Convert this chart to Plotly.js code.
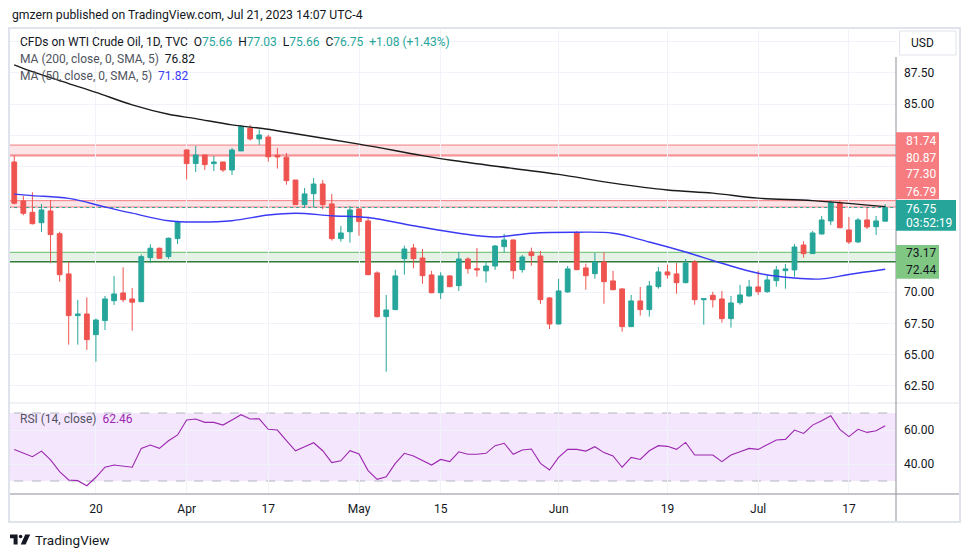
<!DOCTYPE html>
<html><head><meta charset="utf-8">
<script src="https://cdn.plot.ly/plotly-3.0.1.min.js"></script>
<style>html,body{margin:0;padding:0;background:#fff;}#chart{width:970px;height:557px;}</style>
</head><body><div id="chart"></div>
<script>
// ---------------- DATA ----------------
const dates = [
'2023-03-07','2023-03-08','2023-03-09','2023-03-10','2023-03-13','2023-03-14','2023-03-15','2023-03-16','2023-03-17',
'2023-03-20','2023-03-21','2023-03-22','2023-03-23','2023-03-24','2023-03-27','2023-03-28','2023-03-29','2023-03-30','2023-03-31',
'2023-04-03','2023-04-04','2023-04-05','2023-04-06','2023-04-10','2023-04-11','2023-04-12','2023-04-13','2023-04-14',
'2023-04-17','2023-04-18','2023-04-19','2023-04-20','2023-04-21','2023-04-24','2023-04-25','2023-04-26','2023-04-27','2023-04-28',
'2023-05-01','2023-05-02','2023-05-03','2023-05-04','2023-05-05','2023-05-08','2023-05-09','2023-05-10','2023-05-11',
'2023-05-15','2023-05-16','2023-05-17','2023-05-18','2023-05-19','2023-05-22','2023-05-23','2023-05-24','2023-05-25','2023-05-26',
'2023-05-29','2023-05-30','2023-05-31','2023-06-01','2023-06-02','2023-06-05','2023-06-06','2023-06-07','2023-06-08','2023-06-09',
'2023-06-12','2023-06-13','2023-06-14','2023-06-15','2023-06-16','2023-06-19','2023-06-20','2023-06-21','2023-06-22','2023-06-23',
'2023-06-26','2023-06-27','2023-06-28','2023-06-29','2023-06-30','2023-07-03','2023-07-04','2023-07-05','2023-07-06','2023-07-07',
'2023-07-10','2023-07-11','2023-07-12','2023-07-13','2023-07-14','2023-07-17','2023-07-18','2023-07-19','2023-07-20','2023-07-21'];

const open  = [80.39,77.28,76.37,75.54,76.48,74.66,71.45,68.12,68.25,
66.60,67.72,69.31,69.93,69.45,69.23,72.75,73.50,72.83,74.27,
81.35,80.26,80.95,80.26,80.39,79.75,81.27,83.08,82.23,
82.38,80.93,80.77,78.95,76.98,77.86,78.63,77.04,74.27,74.82,
76.64,75.68,71.53,68.04,68.60,72.67,73.52,72.72,71.37,
69.95,71.29,70.51,72.64,71.87,71.69,72.08,73.63,74.16,71.79,
73.20,72.88,69.53,67.45,70.01,74.72,71.93,71.47,72.40,70.89,
70.25,67.24,69.29,68.60,70.43,71.61,71.45,70.75,72.40,69.39,
69.74,69.45,67.88,69.15,69.69,70.41,70.03,70.91,71.71,71.77,
73.76,73.07,74.64,75.68,77.14,74.96,74.00,75.76,75.22,75.66];
const high  = [80.90,77.68,77.97,77.04,77.36,74.82,72.40,69.37,69.58,
67.88,69.69,71.29,71.98,70.33,73.00,73.82,73.55,74.35,75.70,
81.40,81.67,80.95,80.87,80.39,81.51,83.35,83.35,83.00,
82.56,81.51,81.11,78.95,78.31,79.11,78.95,77.84,75.28,76.88,
76.70,76.02,71.66,69.77,71.77,73.71,73.84,73.44,71.69,
71.58,71.35,73.18,72.78,73.52,72.48,73.76,74.64,74.20,72.96,
73.55,73.28,69.61,71.05,72.08,74.88,72.27,73.12,73.20,71.69,
70.30,69.77,70.41,70.89,72.00,72.19,72.32,72.64,72.56,69.50,
70.03,70.09,69.69,70.57,70.97,71.69,71.37,72.08,72.24,73.84,
74.06,74.88,76.08,77.30,77.30,76.00,75.92,76.74,76.08,77.03];
const low   = [77.00,76.13,75.40,74.80,72.35,70.83,65.80,65.80,65.38,
64.44,66.97,68.97,69.21,66.92,69.20,72.30,72.65,72.65,73.84,
79.00,79.59,79.75,79.67,79.59,79.35,81.27,82.09,81.75,
80.42,79.86,78.58,76.95,76.77,76.77,76.61,74.11,74.03,73.95,
74.50,71.35,67.96,63.64,68.55,71.39,71.90,70.67,69.90,
69.45,70.40,70.09,71.47,71.23,70.75,71.77,73.15,71.05,71.55,
72.11,69.05,67.05,67.40,69.95,71.75,70.19,71.07,69.07,70.15,
66.84,67.20,68.12,68.04,70.27,71.07,69.87,70.70,68.99,67.40,
68.76,67.56,67.16,68.99,69.63,69.77,69.95,70.43,70.27,71.23,
72.75,73.05,74.60,75.36,75.10,73.84,73.92,75.04,74.56,75.66];
const close = [77.09,76.29,75.46,76.56,74.59,71.39,68.12,68.25,66.20,
67.77,69.45,69.85,69.39,69.19,72.83,73.50,72.70,74.30,75.63,
80.26,80.95,80.18,80.39,79.75,81.35,83.21,82.23,82.55,
80.80,80.79,78.90,76.98,77.84,78.63,76.98,74.27,74.72,76.56,
75.63,71.39,68.04,68.57,71.29,73.44,72.67,71.31,69.95,
71.29,70.43,72.64,71.87,71.77,72.08,73.68,74.16,71.71,72.80,
72.91,69.39,67.45,70.09,71.85,71.79,71.31,72.40,70.83,70.19,
67.24,69.29,68.60,70.49,71.61,71.37,70.75,72.32,69.39,69.47,
69.39,67.88,69.13,69.77,70.41,70.03,70.97,71.77,71.85,73.60,
73.07,74.72,75.76,77.14,75.14,74.00,75.76,75.20,75.68,76.75];

const ma200Dates = ['2023-03-07','2023-03-09','2023-03-15','2023-03-20','2023-03-24','2023-03-30','2023-04-04','2023-04-11','2023-04-17','2023-04-19','2023-05-01','2023-05-10','2023-05-16','2023-05-25','2023-06-01','2023-06-09','2023-06-19','2023-06-26','2023-07-03','2023-07-11','2023-07-21'];
const ma200 = [88.15,87.60,86.65,85.95,84.95,84.20,83.85,83.35,83.00,82.76,81.82,80.90,80.55,79.87,79.40,78.70,78.15,77.90,77.50,77.30,76.82];

const ma50Dates = ['2023-03-07','2023-03-09','2023-03-15','2023-03-21','2023-03-24','2023-03-30','2023-04-04','2023-04-11','2023-04-17','2023-04-20','2023-04-26','2023-05-02','2023-05-09','2023-05-17','2023-05-23','2023-05-29','2023-06-05','2023-06-09','2023-06-15','2023-06-21','2023-06-27','2023-07-03','2023-07-07','2023-07-12','2023-07-17','2023-07-21'];
const ma50 = [77.82,77.70,77.48,76.80,76.30,75.70,75.60,75.70,76.15,76.30,76.10,75.95,75.30,74.70,74.40,74.70,74.78,74.70,74.00,73.20,72.30,71.50,71.12,71.05,71.40,71.82];

const rsi = [48.6,46.5,44.3,47.6,42.4,35.5,30.6,30.2,27.2,
32.2,38.1,39.4,38.8,38.1,49.2,51.2,49.2,53.7,57.1,
65.9,66.5,64.5,64.5,62.9,65.9,69.0,66.5,66.6,
60.4,60.0,53.7,47.8,50.2,52.5,47.8,40.8,41.9,47.8,
45.9,36.1,31.0,32.5,40.4,46.3,44.7,41.9,39.4,
42.7,41.4,47.2,45.7,45.7,46.3,50.8,52.2,45.7,48.2,
48.8,40.4,36.5,43.9,48.6,48.6,47.6,50.2,46.7,44.7,
38.1,43.9,42.7,47.8,50.8,50.4,48.6,52.7,45.3,45.3,
45.3,41.4,45.3,47.2,49.2,48.6,51.2,54.1,54.5,60.0,
58.0,62.9,65.5,68.4,60.4,56.1,60.4,58.6,59.6,62.46];

const tickDates = ['2023-03-20','2023-04-03','2023-04-17','2023-05-01','2023-05-15','2023-06-01','2023-06-19','2023-07-03','2023-07-17'];
const tickText  = ['20','Apr','17','May','15','Jun','19','Jul','17'];
const priceTicks = [62.5,65,67.5,70,72.5,75,77.5,80,82.5,85,87.5,90];
const priceTickText = ['62.50','65.00','67.50','70.00','','','','','','85.00','87.50',''];
const rsiTicks = [40,60];
const rsiTickText = ['40.00','60.00'];
const resistance = [81.74,80.87,77.30,76.79];
const support = [73.17,72.44];
const lastPrice = 76.75;
const countdown = '03:52:19';

// ---------------- LAYOUT HELPERS ----------------
const L=10,R=896,T=30,B=494;
const px = x => (x-L)/(R-L);
const py = y => (B-y)/(B-T);
const dSplit = py(403);
const FONT = 'Roboto, "DejaVu Sans", sans-serif';
const UP='#26a69a', DN='#ef5350';

const traces = [
 {type:'candlestick', x:dates, open:open, high:high, low:low, close:close, xaxis:'x', yaxis:'y',
  increasing:{line:{color:UP,width:1},fillcolor:UP}, decreasing:{line:{color:DN,width:1},fillcolor:DN},
  whiskerwidth:0, hoverinfo:'skip', showlegend:false},
 {type:'scatter', mode:'lines', x:ma200Dates, y:ma200, xaxis:'x', yaxis:'y', line:{color:'#1b1b1b',width:1.4,shape:'spline'}, hoverinfo:'skip', showlegend:false},
 {type:'scatter', mode:'lines', x:ma50Dates, y:ma50, xaxis:'x', yaxis:'y', line:{color:'#3a3af5',width:1.4,shape:'spline'}, hoverinfo:'skip', showlegend:false},
 {type:'scatter', mode:'lines', x:dates, y:rsi, xaxis:'x', yaxis:'y2', line:{color:'#9c27b0',width:1.1}, hoverinfo:'skip', showlegend:false}
];

const shapes = [];
shapes.push({type:'rect',xref:'x',yref:'y',x0:-2,x1:100,y0:resistance[1],y1:resistance[0],fillcolor:'rgba(242,54,69,0.13)',line:{width:0},layer:'below'});
shapes.push({type:'rect',xref:'x',yref:'y',x0:-2,x1:100,y0:resistance[3],y1:resistance[2],fillcolor:'rgba(242,54,69,0.13)',line:{width:0},layer:'below'});
resistance.forEach(v=>shapes.push({type:'line',xref:'x',yref:'y',x0:-2,x1:100,y0:v,y1:v,line:{color:'#f27c80',width:1},layer:'below'}));
shapes.push({type:'line',xref:'x',yref:'y',x0:-2,x1:100,y0:80.95,y1:80.95,line:{color:'#f27c80',width:1},layer:'below'});
shapes.push({type:'rect',xref:'x',yref:'y',x0:-2,x1:100,y0:support[1],y1:support[0],fillcolor:'rgba(76,175,80,0.15)',line:{width:0},layer:'below'});
shapes.push({type:'line',xref:'x',yref:'y',x0:-2,x1:100,y0:support[0],y1:support[0],line:{color:'#81c784',width:1.2},layer:'below'});
shapes.push({type:'line',xref:'x',yref:'y',x0:-2,x1:100,y0:support[1],y1:support[1],line:{color:'#2e7d32',width:2},layer:'below'});
shapes.push({type:'line',xref:'x',yref:'y',x0:-2,x1:100,y0:lastPrice,y1:lastPrice,line:{color:UP,width:1,dash:'dot'},layer:'below'});
shapes.push({type:'rect',xref:'x',yref:'y2',x0:-2,x1:100,y0:30,y1:70,fillcolor:'#f4e6fd',line:{width:0},layer:'below'});
[30,70].forEach(v=>shapes.push({type:'line',xref:'x',yref:'y2',x0:-2,x1:100,y0:v,y1:v,line:{color:'#b2b5be',width:1,dash:'dash'},layer:'below'}));
shapes.push({type:'line',xref:'paper',yref:'paper',x0:px(10),x1:px(960),y0:py(403),y1:py(403),line:{color:'#e0e3eb',width:1},layer:'above'});
shapes.push({type:'line',xref:'paper',yref:'paper',x0:px(9),x1:px(960),y0:py(494),y1:py(494),line:{color:'#8c8f99',width:1},layer:'above'});
shapes.push({type:'line',xref:'paper',yref:'paper',x0:px(896),x1:px(896),y0:py(57),y1:py(522),line:{color:'#8c8f99',width:1},layer:'above'});
shapes.push({type:'rect',xref:'paper',yref:'paper',x0:px(9),x1:px(960),y0:py(522),y1:py(28),line:{color:'#e0e3eb',width:2},fillcolor:'rgba(0,0,0,0)',layer:'above'});
shapes.push({type:'rect',xref:'paper',yref:'paper',x0:px(899.5),x1:px(956),y0:py(55),y1:py(31),line:{color:'#e0e3eb',width:1},fillcolor:'#ffffff',layer:'above'});
shapes.push({type:'rect',xref:'paper',yref:'paper',x0:px(896),x1:px(939),y0:py(199.3),y1:py(132.3),line:{width:0},fillcolor:'#f77c80',layer:'above'});
shapes.push({type:'rect',xref:'paper',yref:'paper',x0:px(896),x1:px(956),y0:py(230.7),y1:py(200),line:{width:0},fillcolor:UP,layer:'above'});
shapes.push({type:'rect',xref:'paper',yref:'paper',x0:px(896),x1:px(939),y0:py(278.7),y1:py(245),line:{width:0},fillcolor:'#81c784',layer:'above'});
const P = pts => 'M '+pts.map(p=>px(p[0])+' '+py(p[1])).join(' L ')+' Z';
shapes.push({type:'path',xref:'paper',yref:'paper',path:P([[10,534.5],[17.6,534.5],[17.6,544.5],[13.6,544.5],[13.6,538.3],[10,538.3]]),fillcolor:'#131722',line:{width:0},layer:'above'});
shapes.push({type:'circle',xref:'paper',yref:'paper',x0:px(18.8),x1:px(22.4),y0:py(538.3),y1:py(534.7),fillcolor:'#131722',line:{width:0},layer:'above'});
shapes.push({type:'path',xref:'paper',yref:'paper',path:P([[25.2,534.5],[30.2,534.5],[25.6,544.5],[20.8,544.5]]),fillcolor:'#131722',line:{width:0},layer:'above'});

const annotations = [];
const ann = (x,y,text,color,size) => annotations.push({xref:'paper',yref:'paper',x:px(x),y:py(y),text:text,showarrow:false,xanchor:'left',yanchor:'middle',font:{family:FONT,size:size||12,color:color||'#131722'}});
const g = s => '<span style="color:'+UP+'">'+s+'</span>';
const li = open.length-1;
ann(10,15,'gmzern published on TradingView.com, Jul 21, 2023 14:07 UTC-4','#131722',12.2);
ann(18,42,'CFDs on WTI Crude Oil, 1D, TVC\u00a0\u00a0O'+g(open[li].toFixed(2))+'\u00a0\u00a0H'+g(high[li].toFixed(2))+'\u00a0\u00a0L'+g(low[li].toFixed(2))+'\u00a0\u00a0C'+g(close[li].toFixed(2))+'\u00a0\u00a0'+g('+1.08 (+1.43%)'),'#131722',12);
ann(18,59,'MA (200, close, 0, SMA, 5)\u00a0\u00a0<span style="color:#131722">'+ma200[ma200.length-1].toFixed(2)+'</span>','#50535e',12);
ann(18,76,'MA (50, close, 0, SMA, 5)\u00a0\u00a0<span style="color:#3a3af5">'+ma50[ma50.length-1].toFixed(2)+'</span>','#50535e',12);
ann(18,419,'RSI (14, close)\u00a0\u00a0<span style="color:#9c27b0">'+rsi[li].toFixed(2)+'</span>','#50535e',12);
ann(909,43,'USD','#131722',12);
const redY=[141,157.7,174.3,191.7];
resistance.forEach((v,i)=>ann(904,redY[i],v.toFixed(2),'#ffffff',12));
ann(904,209,lastPrice.toFixed(2),'#ffffff',12);
ann(904,222.7,countdown,'#ffffff',12);
const grY=[253.3,270];
support.forEach((v,i)=>ann(904,grY[i],v.toFixed(2),'#131722',12));
ann(33,539.5,'TradingView','#131722',13.5);

const layout = {
 width:970, height:557, margin:{l:L,r:970-R,t:T,b:557-B,pad:0},
 paper_bgcolor:'#ffffff', plot_bgcolor:'#ffffff', showlegend:false, hovermode:false,
 boxgap:0.25,
 font:{family:FONT,size:12,color:'#131722'},
 xaxis:{type:'category', range:[-0.47,97.19], anchor:'y2', tickvals:tickDates, ticktext:tickText,
   showgrid:true, gridcolor:'#f0f3fa', gridwidth:1, ticks:'', showline:false, zeroline:false,
   tickfont:{family:FONT,size:12,color:'#131722'}, rangeslider:{visible:false}, ticklabelstandoff:6, fixedrange:true},
 yaxis:{domain:[dSplit,1], range:[61.14,90.93], side:'right', anchor:'x', tickvals:priceTicks, ticktext:priceTickText,
   showgrid:true, gridcolor:'#f0f3fa', ticks:'', showline:false, zeroline:false, tickfont:{family:FONT,size:12,color:'#131722'}, ticklabelstandoff:7, fixedrange:true},
 yaxis2:{domain:[0,dSplit], range:[22.35,75.9], side:'right', anchor:'x', tickvals:rsiTicks, ticktext:rsiTickText,
   showgrid:true, gridcolor:'#f0f3fa', ticks:'', showline:false, zeroline:false, tickfont:{family:FONT,size:12,color:'#131722'}, ticklabelstandoff:7, fixedrange:true},
 shapes:shapes, annotations:annotations
};
Plotly.newPlot('chart', traces, layout, {displayModeBar:false, staticPlot:true});
</script></body></html>
